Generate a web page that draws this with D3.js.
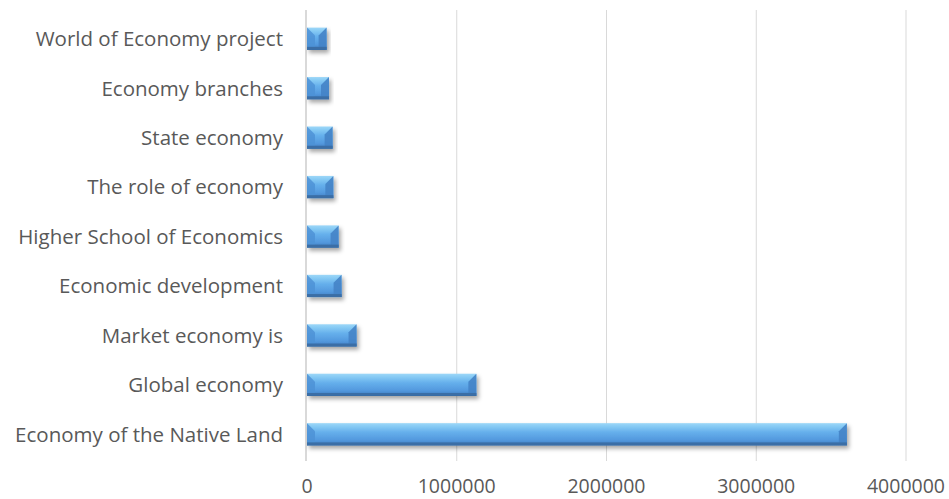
<!DOCTYPE html>
<html>
<head>
<meta charset="utf-8">
<script src="https://cdn.jsdelivr.net/npm/d3@7"></script>
<style>
  body { margin: 0; background: #fff; }
  text { font-family: "Open Sans", sans-serif; fill: #595959; }
</style>
</head>
<body>
<svg id="chart" width="949" height="499"></svg>
<script>
const categories = [
  'World of Economy project',
  'Economy branches',
  'State economy',
  'The role of economy',
  'Higher School of Economics',
  'Economic development',
  'Market economy is',
  'Global economy',
  'Economy of the Native Land',
];
const values = [131000, 147000, 171000, 176000, 211000, 231000, 331000, 1131000, 3605000];
const xTicks = [0, 1000000, 2000000, 3000000, 4000000];

const svg = d3.select('#chart');
const m = { left: 307, right: 43, top: 14, bottom: 40 };
const W = 949, H = 499;

const x = d3.scaleLinear().domain([0, 4000000]).range([m.left, W - m.right]);
const y = d3.scaleBand().domain(categories).range([m.top, H - m.bottom]).paddingInner(0.55).paddingOuter(0.275);

const defs = svg.append('defs');
const f = defs.append('filter').attr('id', 'shadow').attr('x', '-10%').attr('y', '-40%').attr('width', '130%').attr('height', '200%');
f.append('feDropShadow').attr('dx', 2).attr('dy', 3).attr('stdDeviation', 2).attr('flood-color', '#000').attr('flood-opacity', 0.35);

const gMid = defs.append('linearGradient').attr('id', 'gMid').attr('x1', 0).attr('y1', 0).attr('x2', 0).attr('y2', 1);
[[0, '#9dd7f8'], [0.15, '#86caf4'], [0.4, '#66b0ec'], [0.75, '#5399de'], [0.88, '#4a8bd0'], [1, '#3a6ea6']]
  .forEach(([o, c]) => gMid.append('stop').attr('offset', o).attr('stop-color', c));

// grid
svg.append('g').selectAll('line').data(xTicks.slice(1)).join('line')
  .attr('x1', d => x(d)).attr('x2', d => x(d))
  .attr('y1', m.top - 4).attr('y2', H - m.bottom + 2)
  .attr('stroke', '#d9d9d9').attr('stroke-width', 1);

// axis line
svg.append('line').attr('x1', x(0) - 1).attr('x2', x(0) - 1)
  .attr('y1', m.top - 4).attr('y2', H - m.bottom + 2)
  .attr('stroke', '#d9d9d9').attr('stroke-width', 2);

// bars (bevelled look)
const bars = svg.append('g').selectAll('g').data(categories).join('g')
  .attr('transform', d => `translate(${x(0)},${y(d)})`)
  .attr('filter', 'url(#shadow)');

bars.each(function (d, i) {
  const g = d3.select(this);
  const w = x(values[i]) - x(0);
  const h = y.bandwidth();
  const dx = Math.min(8, w / 2);
  const dy = Math.min(8, h / 2);
  g.append('rect').attr('width', w).attr('height', h).attr('fill', 'url(#gMid)');
  g.append('polygon').attr('points', `0,0 ${dx},${dy} ${dx},${h - 3} 0,${h}`).attr('fill', '#4d92d6').attr('opacity', 0.85);
  g.append('polygon').attr('points', `${w},0 ${w - dx},${dy} ${w - dx},${h - 3} ${w},${h}`).attr('fill', '#4483c6').attr('opacity', 0.9);
  g.append('rect').attr('y', h - 3).attr('width', w).attr('height', 3).attr('fill', '#3a6ea6');
});

// category labels
svg.append('g').selectAll('text').data(categories).join('text')
  .attr('x', 283).attr('y', d => y(d) + y.bandwidth() / 2)
  .attr('dy', '0.36em').attr('text-anchor', 'end')
  .attr('font-size', 20.5).text(d => d);

// tick labels
svg.append('g').selectAll('text').data(xTicks).join('text')
  .attr('x', d => x(d)).attr('y', 493)
  .attr('text-anchor', 'middle').attr('font-size', 19.5)
  .text(d => d);
</script>
</body>
</html>
